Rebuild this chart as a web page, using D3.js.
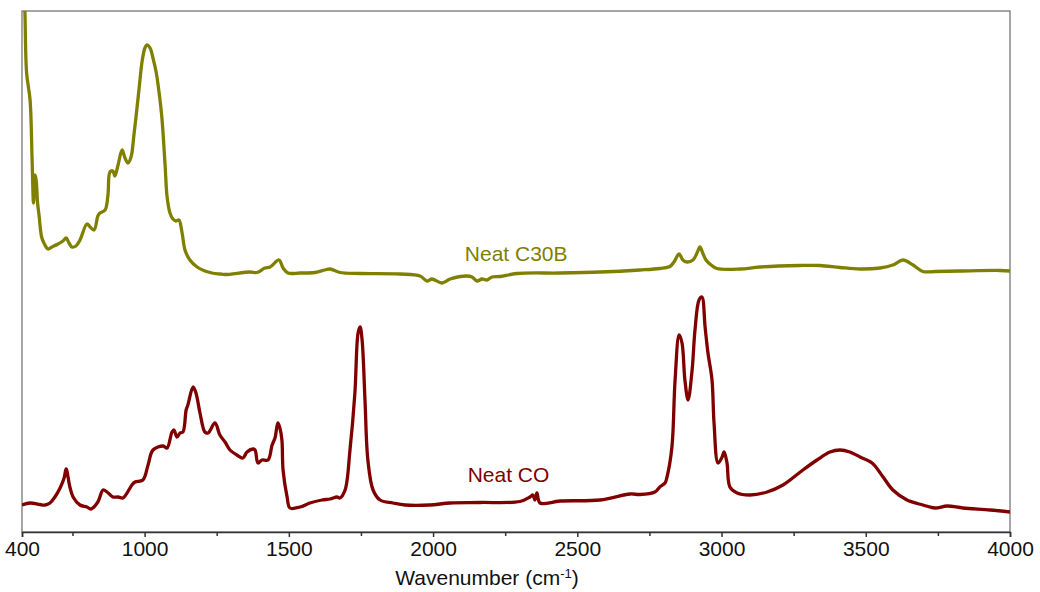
<!DOCTYPE html>
<html>
<head>
<meta charset="utf-8">
<script src="https://cdn.jsdelivr.net/npm/d3@7"></script>
<style>
  body { margin: 0; background: #fff; }
  svg { display: block; }
</style>
</head>
<body>
<svg id="chart"></svg>
<script>
var margin = {top: 11, right: 30, bottom: 60, left: 22},
    width = 1040 - margin.left - margin.right,
    height = 592 - margin.top - margin.bottom;

// spectra (wavenumber cm-1, absorbance a.u., offset)
const c30bWavenumber = [580, 585, 591, 603, 610, 615, 620, 624, 629, 634, 643, 651, 665, 679, 700, 717, 728, 738, 748, 762,
  776, 800, 811, 825, 838, 845, 863, 873, 880, 890, 897, 908, 922, 932, 942, 953, 963, 974, 984, 991,
  1001, 1008, 1019, 1029, 1040, 1050, 1060, 1071, 1078, 1088, 1098, 1109, 1119, 1130, 1140, 1157, 1182, 1209, 1234, 1261,
  1279, 1365, 1390, 1417, 1435, 1466, 1480, 1497, 1539, 1591, 1625, 1643, 1677, 1747, 1885, 1955, 1979, 1996, 2031, 2059,
  2118, 2135, 2152, 2170, 2187, 2204, 2232, 2291, 2440, 2579, 2717, 2786, 2821, 2835, 2853, 2866, 2880, 2901, 2915, 2925,
  2936, 2946, 2964, 2984, 3064, 3133, 3272, 3341, 3411, 3480, 3549, 3594, 3629, 3664, 3698, 3740, 3827, 3965, 4000];
const c30bAbsorbance = [1.12, 1.042, 0.918, 0.864, 0.744, 0.658, 0.714, 0.704, 0.658, 0.634, 0.590, 0.578, 0.566, 0.570, 0.576, 0.582, 0.588, 0.578, 0.570, 0.572,
  0.584, 0.616, 0.610, 0.604, 0.632, 0.638, 0.644, 0.674, 0.720, 0.722, 0.712, 0.734, 0.764, 0.748, 0.738, 0.750, 0.794, 0.850, 0.904, 0.940,
  0.968, 0.974, 0.968, 0.948, 0.920, 0.880, 0.828, 0.734, 0.670, 0.638, 0.626, 0.622, 0.624, 0.598, 0.564, 0.544, 0.530, 0.522, 0.518, 0.516,
  0.515, 0.520, 0.519, 0.528, 0.530, 0.544, 0.528, 0.518, 0.518, 0.519, 0.524, 0.526, 0.519, 0.517, 0.516, 0.512, 0.502, 0.506, 0.498, 0.506,
  0.512, 0.510, 0.502, 0.506, 0.504, 0.510, 0.511, 0.517, 0.518, 0.520, 0.524, 0.527, 0.531, 0.540, 0.556, 0.544, 0.540, 0.544, 0.558, 0.570,
  0.556, 0.544, 0.534, 0.527, 0.526, 0.530, 0.533, 0.533, 0.529, 0.526, 0.528, 0.534, 0.544, 0.534, 0.521, 0.521, 0.522, 0.523, 0.522];

const coWavenumber = [575, 603, 637, 655, 672, 689, 707, 721, 728, 741, 752, 776, 800, 814, 838, 856, 870, 890, 908, 925,
  956, 967, 994, 1012, 1029, 1064, 1078, 1095, 1102, 1112, 1123, 1133, 1144, 1150, 1168, 1178, 1192, 1209, 1220, 1244,
  1261, 1279, 1296, 1320, 1341, 1355, 1376, 1383, 1393, 1407, 1428, 1442, 1452, 1462, 1469, 1476, 1480, 1494, 1504, 1539,
  1573, 1615, 1643, 1667, 1677, 1695, 1712, 1729, 1740, 1747, 1754, 1764, 1774, 1792, 1816, 1861, 1903, 1989, 2059, 2163,
  2301, 2336, 2346, 2353, 2360, 2371, 2440, 2579, 2683, 2717, 2769, 2786, 2804, 2811, 2828, 2839, 2853, 2863, 2873, 2884,
  2898, 2908, 2922, 2932, 2943, 2953, 2967, 2974, 2988, 3002, 3009, 3019, 3029, 3054, 3099, 3158, 3213, 3282, 3331, 3376,
  3411, 3445, 3480, 3522, 3560, 3594, 3643, 3698, 3740, 3782, 3837, 3931, 4000];
const coAbsorbance = [0.054, 0.058, 0.055, 0.054, 0.058, 0.070, 0.088, 0.108, 0.126, 0.090, 0.070, 0.054, 0.050, 0.046, 0.060, 0.084, 0.080, 0.070, 0.070, 0.068,
  0.094, 0.100, 0.104, 0.134, 0.164, 0.172, 0.168, 0.200, 0.204, 0.190, 0.198, 0.200, 0.244, 0.254, 0.290, 0.278, 0.238, 0.200, 0.198, 0.218,
  0.194, 0.180, 0.164, 0.154, 0.148, 0.160, 0.166, 0.164, 0.138, 0.144, 0.144, 0.174, 0.188, 0.218, 0.208, 0.184, 0.124, 0.070, 0.048, 0.050,
  0.058, 0.064, 0.066, 0.070, 0.068, 0.084, 0.164, 0.278, 0.398, 0.410, 0.384, 0.264, 0.144, 0.084, 0.064, 0.058, 0.054, 0.054, 0.058, 0.059,
  0.061, 0.070, 0.074, 0.064, 0.078, 0.058, 0.062, 0.064, 0.076, 0.075, 0.080, 0.090, 0.098, 0.110, 0.170, 0.304, 0.394, 0.378, 0.304, 0.264,
  0.324, 0.404, 0.464, 0.470, 0.410, 0.358, 0.304, 0.218, 0.138, 0.150, 0.160, 0.138, 0.090, 0.078, 0.074, 0.080, 0.094, 0.124, 0.144, 0.160,
  0.164, 0.160, 0.150, 0.138, 0.110, 0.084, 0.064, 0.054, 0.048, 0.052, 0.048, 0.044, 0.040];

const seriesNames = ["Neat C30B", "Neat CO"];
const seriesColors = ["#808000", "#800000"];
const labelWavenumber = [2110, 2120];
const labelAbsorbance = [0.542, 0.100];

const xTicks = [575, 1000, 1500, 2000, 2500, 3000, 3500, 4000];
const xTickLabels = ["400", "1000", "1500", "2000", "2500", "3000", "3500", "4000"];
const xMinorTicks = [750, 1250, 1750, 2250, 2750, 3250, 3750];

const font = "'Liberation Sans', Arial, Helvetica, sans-serif";

const svg = d3.select("#chart")
    .attr("width", 1040)
    .attr("height", 592);

const g = svg.append("g")
    .attr("transform", "translate(" + margin.left + "," + margin.top + ")");

const x = d3.scaleLinear().domain([575, 4000]).range([0, width]);
const y = d3.scaleLinear().domain([0, 1.042]).range([height, 0]);

svg.append("defs").append("clipPath")
    .attr("id", "plotClip")
  .append("rect")
    .attr("width", width)
    .attr("height", height);

// frame
g.append("rect")
    .attr("width", width)
    .attr("height", height)
    .attr("fill", "none")
    .attr("stroke", "#6b6b6b")
    .attr("stroke-width", 1.2);

const series = [
  {name: seriesNames[0], color: seriesColors[0], wn: c30bWavenumber, ab: c30bAbsorbance},
  {name: seriesNames[1], color: seriesColors[1], wn: coWavenumber, ab: coAbsorbance}
];

const line = d3.line()
    .x(d => x(d[0]))
    .y(d => y(d[1]))
    .curve(d3.curveCatmullRom.alpha(0.5));

g.append("g")
    .attr("clip-path", "url(#plotClip)")
  .selectAll("path")
  .data(series)
  .enter()
    .append("path")
    .attr("d", s => line(d3.zip(s.wn, s.ab)))
    .attr("fill", "none")
    .attr("stroke", s => s.color)
    .attr("stroke-width", 3.3)
    .attr("stroke-linejoin", "round");

g.selectAll("text.series-label")
  .data(series)
  .enter()
    .append("text")
    .attr("class", "series-label")
    .attr("x", (s, i) => x(labelWavenumber[i]))
    .attr("y", (s, i) => y(labelAbsorbance[i]))
    .style("font-family", font)
    .style("font-size", "21px")
    .attr("fill", s => s.color)
    .text(s => s.name);

// x axis
const xAxis = g.append("g")
    .attr("transform", "translate(0," + height + ")")
    .call(d3.axisBottom(x)
      .tickValues(xTicks)
      .tickFormat((d, i) => xTickLabels[i])
      .tickSize(5)
      .tickPadding(4));

xAxis.append("g")
    .call(d3.axisBottom(x).tickValues(xMinorTicks).tickFormat("").tickSize(4))
    .select(".domain").remove();

xAxis.selectAll(".domain").attr("stroke", "#333").attr("stroke-width", 1.5);
xAxis.selectAll(".tick line").attr("stroke", "#333").attr("stroke-width", 1.5);
xAxis.selectAll(".tick text")
    .style("font-family", font)
    .style("font-size", "21px")
    .attr("fill", "#111");

const title = svg.append("text")
    .attr("x", 487)
    .attr("y", 585)
    .attr("text-anchor", "middle")
    .style("font-family", font)
    .style("font-size", "21px")
    .attr("fill", "#111");
title.append("tspan").text("Wavenumber (cm");
title.append("tspan")
    .attr("baseline-shift", "super")
    .style("font-size", "13px")
    .text("-1");
title.append("tspan").text(")");
</script>
</body>
</html>
